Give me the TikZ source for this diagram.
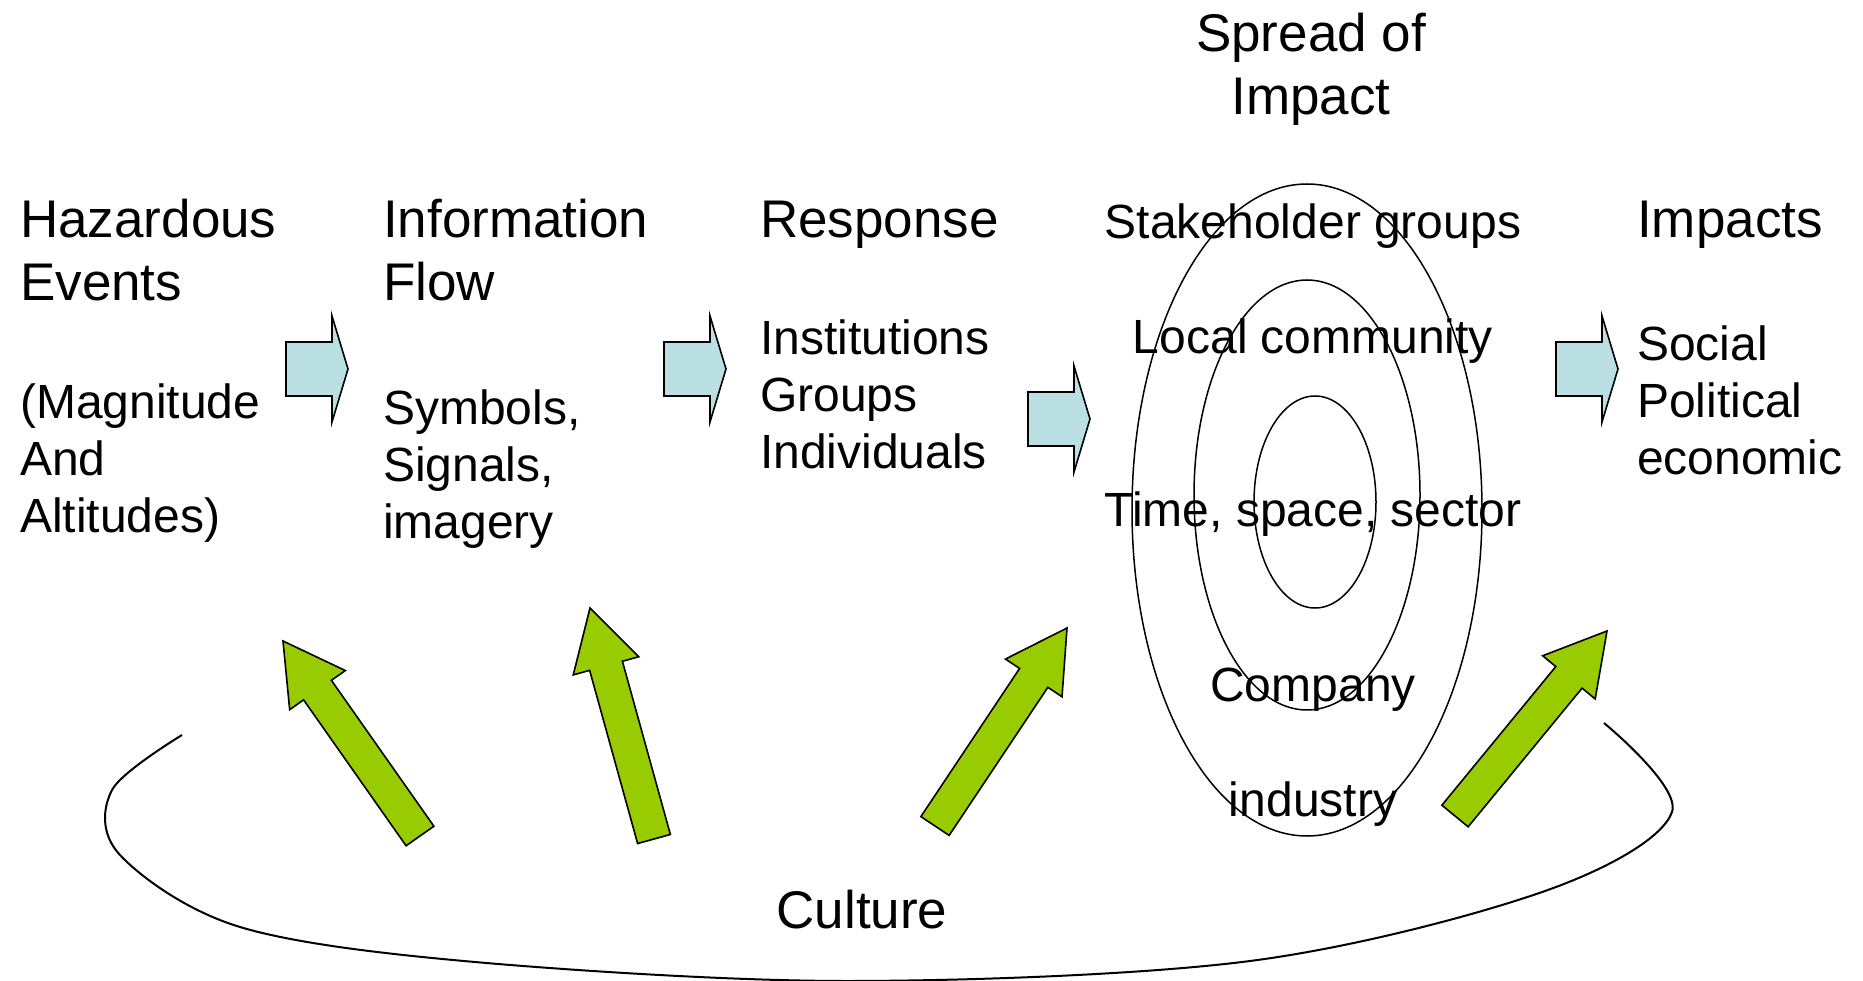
\documentclass[tikz,border=0pt]{standalone}
\usepackage{fontspec}
\setmainfont{Liberation Sans}
\usetikzlibrary{calc}
\definecolor{flowfill}{HTML}{BBE0E3}
\definecolor{culturegreen}{HTML}{99CC00}
\tikzset{
  headtext/.style={anchor=base west, inner sep=0pt, align=left, font=\fontsize{53}{63}\selectfont},
  bodytext/.style={anchor=base west, inner sep=0pt, align=left, font=\fontsize{48}{57}\selectfont},
  ringlabel/.style={anchor=base, inner sep=0pt, font=\fontsize{48}{57}\selectfont},
  flowarrow/.style={draw=black, fill=flowfill, line width=1.6pt, line join=miter},
  culturearrow/.style={draw=black, fill=culturegreen, line width=1.6pt, line join=miter},
  ring/.style={draw=black, line width=1.5pt},
  culturecurve/.style={draw=black, line width=2pt},
}
% block arrow pointing right; #1 name, #2 left x, #3 centre y
\newcommand\flowarrowat[3]{%
  \coordinate (#1) at (#2,#3);
  \draw[flowarrow] ($(#1)+(0,-27)$) -- ($(#1)+(46,-27)$) -- ($(#1)+(46,-53)$)
    -- ($(#1)+(62,0)$) -- ($(#1)+(46,53)$) -- ($(#1)+(46,27)$) -- ($(#1)+(0,27)$) -- cycle;
}
% broad arrow from tail #1 to tip #2
\newcommand\culturearrowfrom[2]{%
  \coordinate (ca-t) at (#1);
  \coordinate (ca-p) at (#2);
  \coordinate (ca-n) at ($(ca-p)!60pt!(ca-t)$);
  \draw[culturearrow] ($(ca-t)!17pt!90:(ca-p)$) -- ($(ca-n)!17pt!90:(ca-p)$)
    -- ($(ca-n)!34pt!90:(ca-p)$) -- (ca-p) -- ($(ca-n)!34pt!-90:(ca-p)$)
    -- ($(ca-n)!17pt!-90:(ca-p)$) -- ($(ca-t)!17pt!-90:(ca-p)$) -- cycle;
}
\begin{document}
\begin{tikzpicture}[x=1pt, y=-1pt]
\useasboundingbox (0,0) rectangle (1863,981);

% column headings and items (base anchor sits on the last line)
\node[headtext] (hazard) at (20,301) {Hazardous\\Events};
\node[bodytext] (hazardsub) at (20,532) {(Magnitude\\And\\Altitudes)};
\node[headtext] (info) at (383,301) {Information\\Flow};
\node[bodytext] (infosub) at (383,538) {Symbols,\\Signals,\\imagery};
\node[headtext] (resp) at (760,238) {Response};
\node[bodytext] (respsub) at (760,468) {Institutions\\Groups\\Individuals};
\node[headtext] (impacts) at (1637,238) {Impacts};
\node[bodytext] (impactsub) at (1637,474) {Social\\Political\\economic};
\node[headtext, anchor=base, align=center] (spread) at (1311,115) {Spread of\\Impact};

% flow arrows between the columns
\flowarrowat{f1}{286}{369}
\flowarrowat{f2}{664}{369}
\flowarrowat{f3}{1028}{419}
\flowarrowat{f4}{1556}{369}

% rings of impact
\draw[ring] (1307,510) ellipse [x radius=175, y radius=326];
\draw[ring] (1307,495) ellipse [x radius=113, y radius=215];
\draw[ring] (1315,502) ellipse [x radius=61, y radius=106];

\node[ringlabel] (stake) at (1313,239) {Stakeholder groups};
\node[ringlabel] (local) at (1313,354) {Local community};
\node[ringlabel] (tss) at (1313,526) {Time, space, sector};
\node[ringlabel] (company) at (1313,701) {Company};
\node[ringlabel] (industry) at (1313,816) {industry};

% culture loop and its influence arrows
\draw[culturecurve] plot[smooth, tension=0.55] coordinates {
  (182,735) (112,790) (120,855) (240,927) (475,962) (850,981)
  (1250,961) (1545,891) (1672,812) (1604,723)};
\node[headtext, anchor=base] (culture) at (862,928) {Culture};

\culturearrowfrom{420,836}{283,641}
\culturearrowfrom{654,839}{590,608}
\culturearrowfrom{935,826}{1067,628}
\culturearrowfrom{1455,816}{1607,631}
\end{tikzpicture}
\end{document}
